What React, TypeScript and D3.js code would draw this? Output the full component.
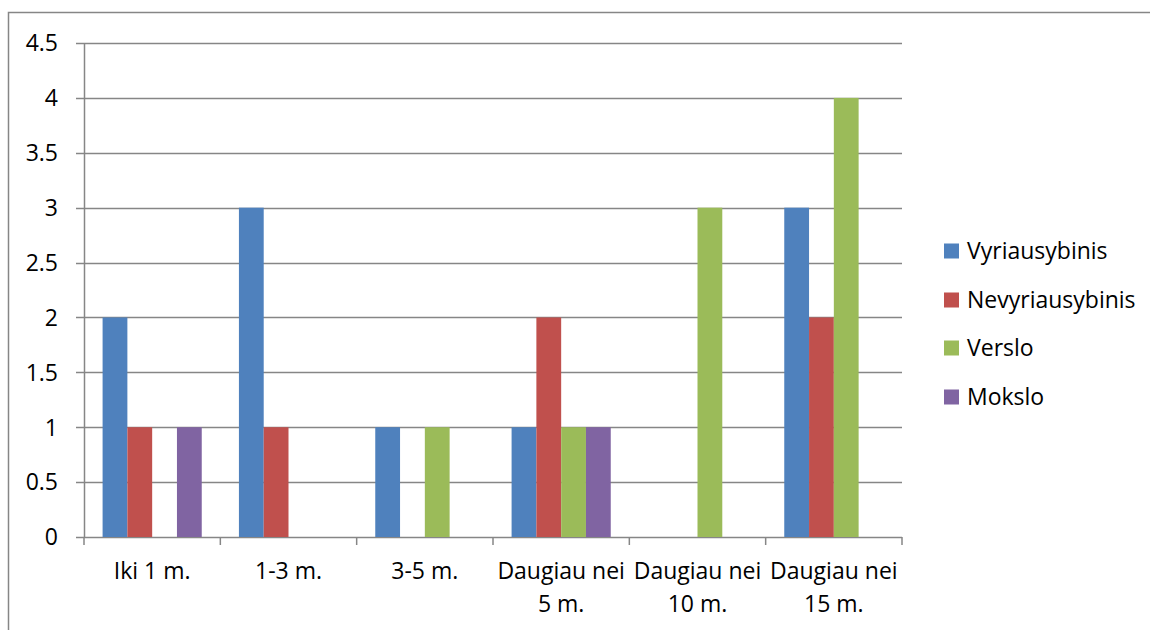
import React from "react";
import * as d3 from "d3";

const categories = [
  ["Iki 1 m."],
  ["1-3 m."],
  ["3-5 m."],
  ["Daugiau nei", "5 m."],
  ["Daugiau nei", "10 m."],
  ["Daugiau nei", "15 m."],
];
const seriesNames = ["Vyriausybinis", "Nevyriausybinis", "Verslo", "Mokslo"];
const seriesColors = ["#4F81BD", "#C0504D", "#9BBB59", "#8064A2"];
const vyriausybinis = [2, 3, 1, 1, 0, 3];
const nevyriausybinis = [1, 1, 0, 2, 0, 2];
const verslo = [0, 0, 1, 1, 3, 4];
const mokslo = [1, 0, 0, 1, 0, 0];
const yTicks = [0, 0.5, 1, 1.5, 2, 2.5, 3, 3.5, 4, 4.5];

const series = [vyriausybinis, nevyriausybinis, verslo, mokslo];

const W = 1150;
const H = 630;
const plotLeft = 84;
const plotRight = 902;
const plotTop = 43;
const plotBottom = 537;
const FONT = "'Open Sans', sans-serif";
const FS = 23;
const GRID = "#868686";

export default function App() {
  const catKeys = categories.map((c, i) => String(i));
  const x0 = d3.scaleBand<string>().domain(catKeys).range([plotLeft, plotRight]).padding(0);
  const x1 = d3
    .scaleBand<string>()
    .domain(seriesNames)
    .range([0, x0.bandwidth()])
    .paddingInner(0)
    .paddingOuter(0.75);
  const y = d3.scaleLinear().domain([0, 4.5]).range([plotBottom, plotTop]);

  const legendX = 944;
  const legendRows = [251, 300, 348, 397];

  return (
    <svg
      width={W}
      height={H}
      style={{ position: "absolute", left: 0, top: 0, background: "#fff" }}
      fontFamily={FONT}
    >
      <rect x={8.5} y={12.5} width={1300} height={800} fill="#fff" stroke={GRID} strokeWidth={1.5} />
      {/* gridlines and y ticks */}
      {yTicks.map((t) => (
        <g key={t}>
          <line x1={76} x2={plotRight} y1={Math.round(y(t)) + 0.5} y2={Math.round(y(t)) + 0.5} stroke={GRID} strokeWidth={1.5} />
          <text x={58} y={y(t)} dy="0.36em" textAnchor="end" fontSize={FS} fill="#000">
            {String(t)}
          </text>
        </g>
      ))}
      {/* bars */}
      {catKeys.map((k, ci) =>
        series.map((vals, si) => {
          const v = vals[ci];
          if (!v) return null;
          const bx = (x0(k) as number) + (x1(seriesNames[si]) as number);
          return (
            <rect
              key={`${k}-${si}`}
              x={bx}
              y={y(v)}
              width={x1.bandwidth()}
              height={y(0) - y(v)}
              fill={seriesColors[si]}
            />
          );
        })
      )}
      {/* y axis line */}
      <line x1={plotLeft + 0.5} x2={plotLeft + 0.5} y1={plotTop} y2={plotBottom} stroke={GRID} strokeWidth={1.5} />
      {/* x axis ticks */}
      {[...catKeys.map((k) => x0(k) as number), plotRight].map((tx, i) => (
        <line key={i} x1={tx} x2={tx} y1={plotBottom} y2={plotBottom + 8} stroke={GRID} strokeWidth={1.5} />
      ))}
      {/* x labels */}
      {categories.map((lines, ci) => {
        const cx = (x0(String(ci)) as number) + x0.bandwidth() / 2;
        return (
          <text key={ci} x={cx} y={579} textAnchor="middle" fontSize={FS} fill="#000">
            {lines.map((ln, li) => (
              <tspan key={li} x={cx} dy={li === 0 ? 0 : 33}>
                {ln}
              </tspan>
            ))}
          </text>
        );
      })}
      {/* legend */}
      {seriesNames.map((name, i) => (
        <g key={name}>
          <rect x={legendX} y={legendRows[i] - 7.5} width={15} height={15} fill={seriesColors[i]} />
          <text x={967} y={legendRows[i]} dy="0.36em" fontSize={FS} fill="#000">
            {name}
          </text>
        </g>
      ))}
    </svg>
  );
}
